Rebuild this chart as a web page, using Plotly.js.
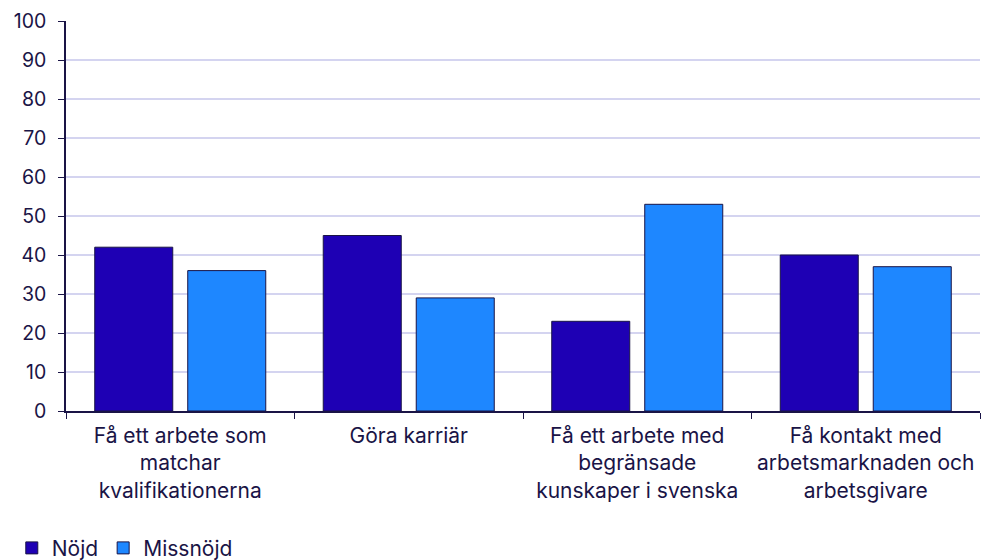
<!DOCTYPE html>
<html>
<head>
<meta charset="utf-8">
<script src="https://cdn.plot.ly/plotly-3.0.1.min.js"></script>
<style>body{margin:0;background:#fff}#plot{width:983px;height:560px}</style>
</head>
<body>
<div id="plot"></div>
<script>
var categories = [
  'Få ett arbete som<br>matchar<br>kvalifikationerna',
  'Göra karriär',
  'Få ett arbete med<br>begränsade<br>kunskaper i svenska',
  'Få kontakt med<br>arbetsmarknaden och<br>arbetsgivare'
];
var nojd = [42, 45, 23, 40];
var missnojd = [36, 29, 53, 37];

var navy = '#1a1446';

var trace1 = {
  x: categories,
  y: nojd,
  name: 'Nöjd',
  type: 'bar',
  marker: {color: '#1e00b4', line: {color: navy, width: 1}},
  hoverinfo: 'y+name'
};
var trace2 = {
  x: categories,
  y: missnojd,
  name: 'Missnöjd',
  type: 'bar',
  marker: {color: '#1e87ff', line: {color: navy, width: 1}},
  hoverinfo: 'y+name'
};

var layout = {
  width: 983,
  height: 560,
  margin: {l: 66, r: 3, t: 21, b: 149, autoexpand: false},
  font: {family: 'Inter, sans-serif', size: 20, color: navy},
  barmode: 'group',
  bargap: 0.186,
  bargroupgap: 0.161,
  showlegend: true,
  legend: {orientation: 'h', xref: 'container', x: 0.012, xanchor: 'left',
           yref: 'container', y: 0.021, yanchor: 'middle',
           font: {size: 21, color: navy}, itemwidth: 30, tracegroupgap: 0},
  xaxis: {
    showline: true, linecolor: navy, linewidth: 1.5,
    ticks: 'outside', tickson: 'boundaries', ticklen: 6, tickcolor: navy,
    showgrid: false, tickangle: 0, automargin: false,
    tickfont: {size: 21}, ticklabelstandoff: 5
  },
  yaxis: {
    range: [0, 100], dtick: 10,
    showline: true, linecolor: navy, linewidth: 1.5,
    ticks: 'outside', ticklen: 6, tickcolor: navy,
    gridcolor: '#d4d4f0', gridwidth: 1.5, zeroline: false, automargin: false,
    tickfont: {size: 19.5}, ticklabelstandoff: 8
  },
  plot_bgcolor: '#fff',
  paper_bgcolor: '#fff'
};

Plotly.newPlot('plot', [trace1, trace2], layout, {displayModeBar: false});
</script>
</body>
</html>
